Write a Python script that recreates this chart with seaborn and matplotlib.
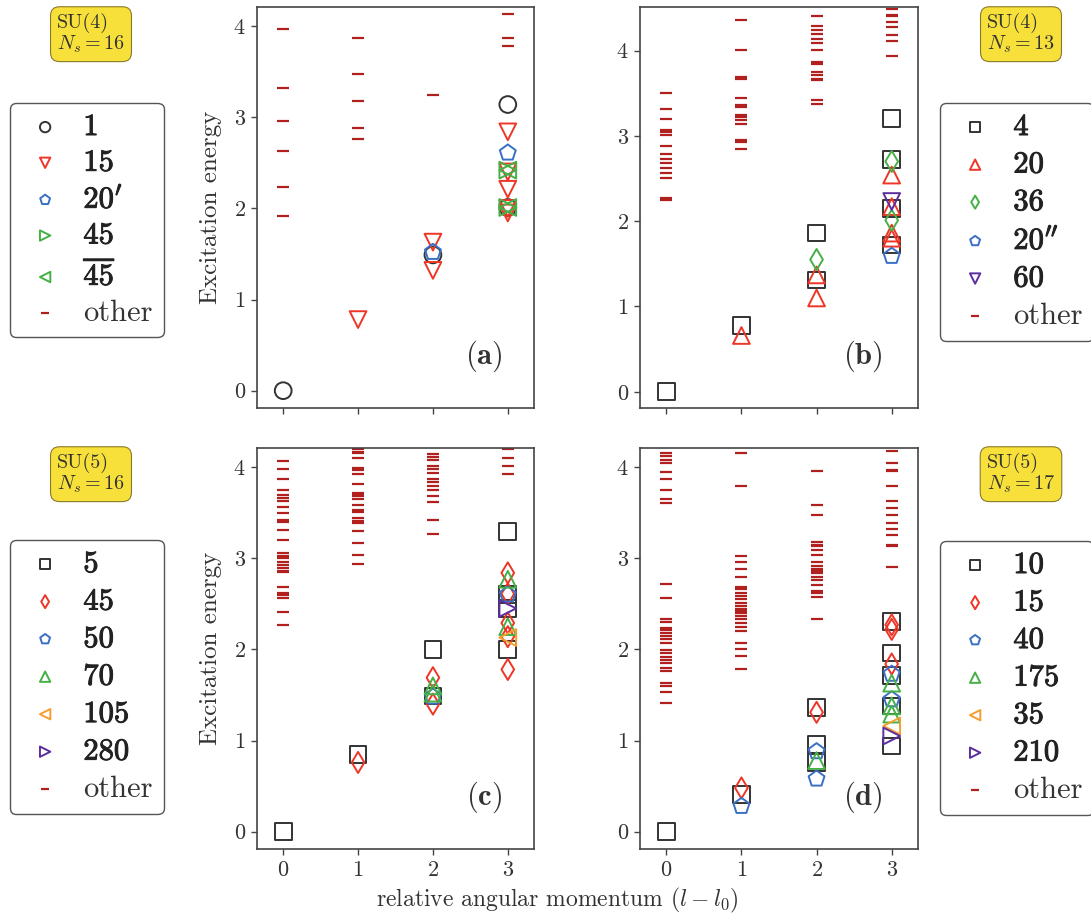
import numpy as np
import pandas as pd
import matplotlib
matplotlib.use("Agg")
import matplotlib.pyplot as plt
import matplotlib.patheffects as pe
import seaborn as sns

# ---------------- data (energies grouped by relative angular momentum) ----------------
L_TICKS = [0, 1, 2, 3]

# panel (a): SU(4), Ns=16
A_OTHER = {0: [3.97, 3.32, 2.96, 2.63, 2.24, 1.92],
           1: [3.87, 3.47, 3.18, 2.88, 2.76],
           2: [3.24],
           3: [4.13, 3.87, 3.78]}
A_1 = {0: [0.0], 2: [1.49], 3: [3.14, 2.01]}
A_15 = {1: [0.78], 2: [1.63, 1.32], 3: [2.84, 2.40, 2.21, 2.00, 1.95]}
A_20P = {2: [1.52], 3: [2.61]}
A_45 = {3: [2.42, 2.01]}
A_45B = {3: [2.42, 2.01]}

# panel (b): SU(4), Ns=13
B_OTHER = {0: [3.50, 3.31, 3.20, 3.07, 3.04, 3.01, 2.88, 2.79, 2.73, 2.68, 2.62, 2.57, 2.50, 2.27, 2.25],
           1: [4.36, 4.01, 3.69, 3.67, 3.44, 3.36, 3.34, 3.24, 3.22, 3.18, 3.14, 2.95, 2.93, 2.84],
           2: [4.40, 4.29, 4.24, 4.19, 4.14, 4.09, 4.01, 3.86, 3.84, 3.75, 3.71, 3.67, 3.65, 3.42, 3.37],
           3: [4.49, 4.42, 4.40, 4.33, 4.27, 4.18, 4.11, 3.94]}
B_4 = {0: [0.0], 1: [0.775], 2: [1.86, 1.31], 3: [3.20, 2.72, 2.15, 1.72]}
B_20 = {1: [0.66], 2: [1.37, 1.10], 3: [2.54, 2.17, 1.86, 1.80]}
B_36 = {2: [1.55], 3: [2.70, 2.01]}
B_20PP = {3: [1.59]}
B_60 = {3: [2.23]}

# panel (c): SU(5), Ns=16
C_OTHER = {0: [4.07, 3.98, 3.87, 3.75, 3.69, 3.66, 3.63, 3.56, 3.50, 3.42, 3.40, 3.31, 3.20, 3.06,
               3.03, 3.00, 2.96, 2.93, 2.89, 2.86, 2.85, 2.69, 2.62, 2.60, 2.56, 2.41, 2.27],
           1: [4.20, 4.17, 4.15, 4.10, 3.99, 3.97, 3.93, 3.81, 3.72, 3.70, 3.68, 3.65, 3.59, 3.53,
               3.51, 3.44, 3.41, 3.39, 3.30, 3.17, 3.04, 2.94],
           2: [4.14, 4.11, 4.08, 4.01, 3.98, 3.94, 3.87, 3.84, 3.79, 3.75, 3.68, 3.62, 3.42, 3.27],
           3: [4.20, 4.10, 4.01, 3.93]}
C_5 = {0: [0.0], 1: [0.85], 2: [2.00, 1.49], 3: [3.29, 2.60, 2.45, 2.00]}
C_45 = {1: [0.76], 2: [1.69, 1.40], 3: [2.84, 2.61, 2.29, 2.14, 1.78]}
C_50 = {2: [1.48], 3: [2.60]}
C_70 = {2: [1.60, 1.52], 3: [2.77, 2.25]}
C_105 = {3: [2.13]}
C_280 = {3: [2.45]}

# panel (d): SU(5), Ns=17
D_OTHER = {0: [4.15, 4.12, 4.08, 4.04, 3.95, 3.87, 3.75, 3.65, 3.61, 2.72, 2.56, 2.33, 2.30, 2.24,
               2.21, 2.18, 2.15, 2.11, 2.07, 1.99, 1.96, 1.92, 1.88, 1.85, 1.80, 1.76, 1.63, 1.60,
               1.53, 1.41],
           1: [4.15, 3.79, 3.02, 2.96, 2.88, 2.79, 2.69, 2.66, 2.62, 2.59, 2.55, 2.51, 2.48, 2.44,
               2.42, 2.40, 2.37, 2.33, 2.29, 2.25, 2.20, 2.07, 2.01, 1.93, 1.78],
           2: [3.96, 3.58, 3.47, 3.18, 3.15, 3.13, 3.09, 3.04, 2.96, 2.91, 2.88, 2.86, 2.84, 2.80,
               2.76, 2.71, 2.64, 2.62, 2.58, 2.33],
           3: [4.18, 4.05, 3.97, 3.96, 3.79, 3.63, 3.55, 3.48, 3.39, 3.32, 3.26, 3.15, 3.13, 2.90]}
D_10 = {0: [0.0], 1: [0.41], 2: [1.36, 0.96, 0.76], 3: [2.31, 1.96, 1.71, 1.38, 0.94]}
D_15 = {1: [0.48], 2: [1.31], 3: [2.27, 2.22, 1.84]}
D_40 = {1: [0.28], 2: [0.88, 0.58], 3: [1.73, 1.45]}
D_175 = {2: [0.78], 3: [1.63, 1.38, 1.29]}
D_35 = {3: [1.16]}
D_210 = {3: [1.05]}

# ---------------- styles ----------------
BLACK, RED, BLUE, GREEN = "#333333", "#ee3526", "#3a6fc6", "#45b045"
ORANGE, PURPLE, OTHER = "#f59e30", "#5b2d9e", "#b0201e"

PANELS = [
    dict(tag="a", group="SU(4)", ns=16, ylim=(-0.19, 4.21), lspace=0.27,
         series=[(A_1, r"$\mathbf{1}$", "o", BLACK), (A_15, r"$\mathbf{15}$", "v", RED),
                 (A_20P, r"$\mathbf{20}'$", "p", BLUE), (A_45, r"$\mathbf{45}$", ">", GREEN),
                 (A_45B, r"$\overline{\mathbf{45}}$", "<", GREEN)],
         other=A_OTHER),
    dict(tag="b", group="SU(4)", ns=13, ylim=(-0.19, 4.51), lspace=0.33,
         series=[(B_4, r"$\mathbf{4}$", "s", BLACK), (B_20, r"$\mathbf{20}$", "^", RED),
                 (B_36, r"$\mathbf{36}$", "d", GREEN), (B_20PP, r"$\mathbf{20}''$", "p", BLUE),
                 (B_60, r"$\mathbf{60}$", "v", PURPLE)],
         other=B_OTHER),
    dict(tag="c", group="SU(5)", ns=16, ylim=(-0.19, 4.21), lspace=0.33,
         series=[(C_5, r"$\mathbf{5}$", "s", BLACK), (C_45, r"$\mathbf{45}$", "d", RED),
                 (C_50, r"$\mathbf{50}$", "p", BLUE), (C_70, r"$\mathbf{70}$", "^", GREEN),
                 (C_105, r"$\mathbf{105}$", "<", ORANGE), (C_280, r"$\mathbf{280}$", ">", PURPLE)],
         other=C_OTHER),
    dict(tag="d", group="SU(5)", ns=17, ylim=(-0.19, 4.21), lspace=0.33,
         series=[(D_10, r"$\mathbf{10}$", "s", BLACK), (D_15, r"$\mathbf{15}$", "d", RED),
                 (D_40, r"$\mathbf{40}$", "p", BLUE), (D_175, r"$\mathbf{175}$", "^", GREEN),
                 (D_35, r"$\mathbf{35}$", "<", ORANGE), (D_210, r"$\mathbf{210}$", ">", PURPLE)],
         other=D_OTHER),
]


def to_frame(d):
    rows = [(l, e) for l, es in d.items() for e in es]
    return pd.DataFrame(rows, columns=["l", "E"])


sns.set_theme(style="ticks")
plt.rcParams.update({
    "font.family": "serif",
    "font.serif": ["cmr10", "DejaVu Serif"],
    "mathtext.fontset": "cm",
    "axes.formatter.use_mathtext": True,
    "axes.edgecolor": "#444444",
    "axes.linewidth": 1.2,
    "xtick.color": "#444444",
    "ytick.color": "#444444",
    "xtick.labelcolor": "#333333",
    "ytick.labelcolor": "#333333",
    "xtick.major.size": 4,
    "ytick.major.size": 4,
    "xtick.major.width": 1.0,
    "ytick.major.width": 1.0,
    "text.color": "#333333",
    "axes.labelcolor": "#333333",
})

W, H = 1091, 913
fig = plt.figure(figsize=(W / 100, H / 100), dpi=100)

# axes rectangles in pixels: left, top, right, bottom
RECTS = [(257, 7, 534, 408), (640, 7, 918, 408), (257, 448, 534, 849), (640, 448, 918, 849)]
LEG_POS = [(10, 103), (940, 103), (10, 540), (940, 541)]
BOX_POS = [(91, 34), (1021, 34), (91, 474), (1021, 474)]

for i, (p, r) in enumerate(zip(PANELS, RECTS)):
    l, t, rr, b = r
    ax = fig.add_axes([l / W, 1 - b / H, (rr - l) / W, (b - t) / H])
    for d, lab, mk, col in p["series"]:
        df = to_frame(d)
        sns.scatterplot(data=df, x="l", y="E", marker=mk, s=145 if mk != "d" else 115,
                        facecolor="none", edgecolor=col, linewidth=1.4, ax=ax, label=lab, zorder=3)
    dfo = to_frame(p["other"])
    sns.scatterplot(data=dfo, x="l", y="E", marker="_", s=68, color=OTHER, linewidth=1.6,
                    ax=ax, label="other", zorder=2)
    handles, labels = ax.get_legend_handles_labels()
    ax.get_legend().remove()
    ax.set_xlim(-0.35, 3.35)
    ax.set_ylim(*p["ylim"])
    ax.set_xticks(L_TICKS)
    ax.set_yticks([0, 1, 2, 3, 4])
    ax.tick_params(labelsize=16, pad=4)
    ax.set_xlabel("")
    if i < 2:
        ax.set_xticklabels([])
    if i in (0, 2):
        ax.set_ylabel("Excitation energy", fontsize=18, labelpad=8)
    else:
        ax.set_ylabel("")
    ax.text(0.8 if i in (1, 3) else 0.82, 0.13, r"$(\mathbf{%s})$" % p["tag"],
            transform=ax.transAxes, fontsize=22, ha="center", va="center")

    lx, ly = LEG_POS[i]
    leg = fig.legend(handles, labels, loc="upper left", bbox_to_anchor=(lx / W, 1 - ly / H),
                     bbox_transform=fig.transFigure, fontsize=22, markerscale=0.62,
                     frameon=True, fancybox=True, edgecolor="#555555", facecolor="white",
                     framealpha=1.0, borderaxespad=0, borderpad=0.35, handlelength=1.6,
                     handletextpad=0.45, labelspacing=p["lspace"])
    leg.get_frame().set_linewidth(1.0)
    for txt in leg.get_texts():
        if txt.get_text() != "other":
            txt.set_color("#222222")
            txt.set_path_effects([pe.withStroke(linewidth=0.7, foreground="#222222")])

    bx, by = BOX_POS[i]
    fig.text(bx / W, 1 - by / H, "%s\n$N_s = %d$" % (p["group"], p["ns"]), fontsize=14.5,
             ha="center", va="center", multialignment="left", linespacing=1.05,
             bbox=dict(boxstyle="round,pad=0.32,rounding_size=0.45", fc="#f7e03a",
                       ec="#8a7a2a", lw=0.8))

fig.text(557 / W, 1 - 900 / H, r"relative angular momentum $(l - l_0)$", fontsize=17,
         ha="center", va="center")

fig.savefig("out.png", dpi=100)
